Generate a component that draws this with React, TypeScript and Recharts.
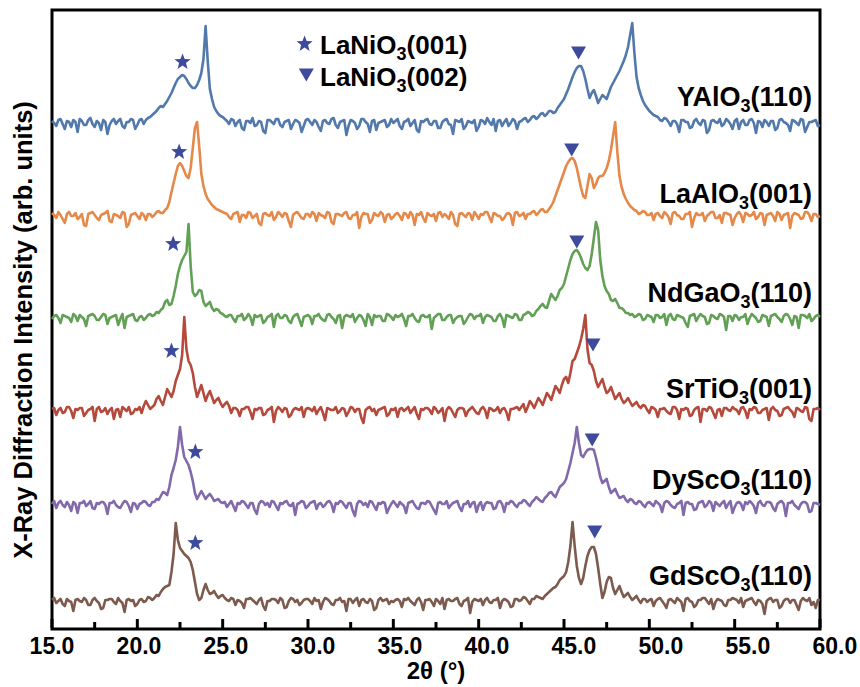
import React from "react";
import { ComposedChart, Line, Scatter, XAxis, YAxis, ReferenceArea } from "recharts";

// 2θ grid (°), 0.125° steps
const TWO_THETA = [
  15, 15.125, 15.25, 15.375, 15.5, 15.625, 15.75, 15.875, 16, 16.125, 16.25, 16.375, 16.5, 16.625, 16.75, 16.875, 17, 17.125, 17.25, 17.375,
  17.5, 17.625, 17.75, 17.875, 18, 18.125, 18.25, 18.375, 18.5, 18.625, 18.75, 18.875, 19, 19.125, 19.25, 19.375, 19.5, 19.625, 19.75, 19.875,
  20, 20.125, 20.25, 20.375, 20.5, 20.625, 20.75, 20.875, 21, 21.125, 21.25, 21.375, 21.5, 21.625, 21.75, 21.875, 22, 22.125, 22.25, 22.375,
  22.5, 22.625, 22.75, 22.875, 23, 23.125, 23.25, 23.375, 23.5, 23.625, 23.75, 23.875, 24, 24.125, 24.25, 24.375, 24.5, 24.625, 24.75, 24.875,
  25, 25.125, 25.25, 25.375, 25.5, 25.625, 25.75, 25.875, 26, 26.125, 26.25, 26.375, 26.5, 26.625, 26.75, 26.875, 27, 27.125, 27.25, 27.375,
  27.5, 27.625, 27.75, 27.875, 28, 28.125, 28.25, 28.375, 28.5, 28.625, 28.75, 28.875, 29, 29.125, 29.25, 29.375, 29.5, 29.625, 29.75, 29.875,
  30, 30.125, 30.25, 30.375, 30.5, 30.625, 30.75, 30.875, 31, 31.125, 31.25, 31.375, 31.5, 31.625, 31.75, 31.875, 32, 32.125, 32.25, 32.375,
  32.5, 32.625, 32.75, 32.875, 33, 33.125, 33.25, 33.375, 33.5, 33.625, 33.75, 33.875, 34, 34.125, 34.25, 34.375, 34.5, 34.625, 34.75, 34.875,
  35, 35.125, 35.25, 35.375, 35.5, 35.625, 35.75, 35.875, 36, 36.125, 36.25, 36.375, 36.5, 36.625, 36.75, 36.875, 37, 37.125, 37.25, 37.375,
  37.5, 37.625, 37.75, 37.875, 38, 38.125, 38.25, 38.375, 38.5, 38.625, 38.75, 38.875, 39, 39.125, 39.25, 39.375, 39.5, 39.625, 39.75, 39.875,
  40, 40.125, 40.25, 40.375, 40.5, 40.625, 40.75, 40.875, 41, 41.125, 41.25, 41.375, 41.5, 41.625, 41.75, 41.875, 42, 42.125, 42.25, 42.375,
  42.5, 42.625, 42.75, 42.875, 43, 43.125, 43.25, 43.375, 43.5, 43.625, 43.75, 43.875, 44, 44.125, 44.25, 44.375, 44.5, 44.625, 44.75, 44.875,
  45, 45.125, 45.25, 45.375, 45.5, 45.625, 45.75, 45.875, 46, 46.125, 46.25, 46.375, 46.5, 46.625, 46.75, 46.875, 47, 47.125, 47.25, 47.375,
  47.5, 47.625, 47.75, 47.875, 48, 48.125, 48.25, 48.375, 48.5, 48.625, 48.75, 48.875, 49, 49.125, 49.25, 49.375, 49.5, 49.625, 49.75, 49.875,
  50, 50.125, 50.25, 50.375, 50.5, 50.625, 50.75, 50.875, 51, 51.125, 51.25, 51.375, 51.5, 51.625, 51.75, 51.875, 52, 52.125, 52.25, 52.375,
  52.5, 52.625, 52.75, 52.875, 53, 53.125, 53.25, 53.375, 53.5, 53.625, 53.75, 53.875, 54, 54.125, 54.25, 54.375, 54.5, 54.625, 54.75, 54.875,
  55, 55.125, 55.25, 55.375, 55.5, 55.625, 55.75, 55.875, 56, 56.125, 56.25, 56.375, 56.5, 56.625, 56.75, 56.875, 57, 57.125, 57.25, 57.375,
  57.5, 57.625, 57.75, 57.875, 58, 58.125, 58.25, 58.375, 58.5, 58.625, 58.75, 58.875, 59, 59.125, 59.25, 59.375, 59.5, 59.625, 59.75, 59.875,
  60,
];

// intensities above each pattern's own baseline (arb. units), one row per 5°
const YALO3 = [
  2, 0, -3, 3, 4, -1, -6, 2, 1, -4, 3, 1, -9, 4, 2, -2, -2, 3, 5, -1, -4, 2, 0, -7, 3, 1, -11, -2, 2, 4, -1, 2, 4, -3, -5, 1, 1, 4, 3, -6,
  -2, 3, 4, -1, 3, 5, 6, 8, 10, 12, 15, 17, 16, 19, 22, 26, 30, 35, 40, 44, 46, 48, 47, 44, 40, 37, 35, 35, 38, 43, 50, 64, 97, 62, 34, 24, 16, 12, 9, 7,
  6, 4, 2, -1, 4, 3, -3, 1, 3, -5, -7, 2, 2, 0, 5, -3, -2, 2, 1, -8, -10, 3, 3, 1, -1, 4, 4, -2, -4, 1, 2, 3, -6, -1, 3, 2, 0, -9, -3, 3,
  4, 1, -2, 3, 1, -4, -8, 2, 3, 0, -1, 4, 5, -2, -5, 1, 2, 3, -12, -3, 3, 2, 0, -6, -3, 4, 4, 1, -1, -9, 2, 3, -7, 0, 1, 2, 3, -4, -2, 4,
  0, 2, 4, -3, -6, 1, 2, 4, -3, 0, 3, -7, -9, 2, 1, 3, 4, -1, -2, 2, 2, -5, -5, 1, 3, 4, -1, -2, -11, 3, 2, 1, 4, -6, -3, 2, 1, 0, 3, -8,
  -4, 3, 2, -1, 5, 1, -2, 4, -8, 2, 3, -3, 1, 4, -3, 0, 4, 2, -6, 1, 2, 4, 5, 1, 3, 6, 7, 4, 6, 9, 10, 7, 9, 12, 12, 10, 11, 15, 18, 21,
  24, 29, 34, 40, 46, 51, 55, 57, 57, 52, 44, 34, 25, 30, 33, 27, 20, 24, 28, 26, 24, 30, 36, 40, 44, 48, 52, 57, 62, 68, 76, 88, 100, 70, 46, 35, 28, 22, 18, 15,
  12, 10, 8, 7, 6, 3, 2, 5, 4, 1, -3, 2, 2, -1, -9, 3, 3, 1, 1, -5, -4, 2, 4, 0, -2, 3, 2, -10, -7, 2, 3, 1, 0, 4, -3, -1, 4, 2, -1, -6,
  2, 4, -6, 1, 3, -2, -2, 3, 4, 0, -10, 2, 1, -4, 3, 1, -3, 2, 2, -7, -5, 3, 4, 1, 0, -2, -8, 3, 2, 0, -2, 4, 3, -9, -4, 1, 1, 2, 3, -3,
  -2,
];
const LAALO3 = [
  3, 1, -2, 4, 1, -3, -7, 2, 4, 0, 0, 3, -3, -1, 2, -9, -10, 2, 3, 4, 1, -2, -4, 1, 2, 3, 5, -5, -6, 2, 1, 0, -2, 4, 3, -11, -8, 1, 2, 3,
  0, -3, 3, 1, -4, 2, 2, -1, 1, 4, 5, 3, 3, 6, 8, 14, 24, 33, 42, 50, 53, 50, 45, 40, 38, 48, 68, 88, 94, 70, 42, 30, 22, 17, 14, 11, 9, 7, 6, 5,
  4, 3, 2, -1, -3, 2, 3, 4, -6, 1, 1, -2, 4, 3, -2, 0, 2, -7, -9, 2, 3, 1, 0, 4, -4, -1, 4, 2, -1, 3, 2, -5, -11, 1, 3, 4, 1, -2, -3, 2,
  2, -1, 4, 2, -5, 3, 1, 0, -2, 4, 3, -6, -8, 2, 2, 1, 0, 3, 4, -2, -3, 1, 1, 4, -12, -1, 3, 2, 2, -7, -4, 3, 1, 0, 4, 2, -6, 1, 2, -3,
  -1, 2, 3, 0, -4, 3, 2, -2, 4, 1, -9, 2, 1, 4, -2, -6, 3, 1, 0, 2, -5, 3, 4, -1, 2, 0, -3, 4, 1, -8, -10, 2, 3, 1, -1, 3, 2, -4, 4, 1,
  -3, 2, 1, 4, 4, -1, -6, 3, 2, 0, 0, -4, -2, 2, 3, 1, -9, 3, 4, 0, 1, 3, -3, 2, 2, 4, 5, 1, 3, 6, 7, 4, 4, 7, 10, 14, 20, 26, 32, 38,
  44, 50, 54, 57, 58, 55, 48, 38, 28, 20, 18, 30, 42, 38, 28, 32, 38, 40, 40, 43, 48, 55, 66, 80, 94, 64, 40, 29, 22, 17, 13, 10, 8, 6, 5, 2, 3, 5, 4, 1,
  1, 3, -4, 2, 3, 0, -2, 4, 2, -1, -8, 3, 4, 1, 0, -3, -3, 2, 2, 4, -11, -2, 3, 1, 1, 3, -5, 0, 2, 4, 4, -2, -2, 1, -7, 3, 3, 2, 1, -9,
  -2, 2, 4, 1, -6, 3, 2, 0, 1, 4, -3, -1, 3, 2, -9, 1, 2, 3, 0, -5, 4, 2, -4, 1, 2, 3, -12, 0, 3, 2, 1, -3, -2, 4, 4, 1, -5, 2, 2, -1,
  0,
];
const NDGAO3 = [
  -1, 2, 3, 0, -5, 3, 2, 1, 0, -4, 4, 2, -3, 3, 1, -1, -8, 2, 3, 4, 2, -2, -2, 1, 4, 3, -6, 0, 1, 2, 3, -7, -1, 4, -10, 1, 2, 3, 4, -2,
  -3, 1, 2, -2, 0, 3, 4, 2, 3, 6, 5, 8, 10, 16, 18, 13, 14, 22, 32, 44, 52, 58, 62, 66, 94, 52, 26, 22, 24, 28, 27, 16, 12, 14, 16, 10, 7, 9, 8, 5,
  4, 2, 1, 3, 3, -1, -4, 2, 2, 4, -2, 0, 4, 1, -7, 3, 1, 2, 3, -5, -3, 1, 2, 4, -9, 2, 4, 0, 0, 3, 2, -3, -5, 1, 3, 4, -2, -8, 1, 2,
  3, 1, -6, 2, 2, 4, 0, -2, -3, 3, 4, 1, -1, -5, 2, 3, -10, 1, 3, 2, 1, 4, -4, 0, 3, 2, -2, -8, 4, 1, -7, 3, 1, 2, 2, -3, -3, 4, 3, 1,
  -2, 3, 1, 2, 4, -1, -8, 2, 2, 4, 0, -3, -4, 2, 3, 1, 1, 3, -11, 0, 2, 4, 4, -2, -2, 1, 3, 3, -5, -1, 1, 2, 2, -6, -3, 1, 4, 3, -1, 2,
  2, 4, -5, 1, 3, 2, 1, -3, -3, 2, 4, 0, -9, 3, 2, 1, 0, 4, 3, -2, -2, 3, 4, 6, 5, 2, 3, 7, 9, 12, 14, 11, 10, 17, 24, 21, 18, 22, 28, 30,
  34, 42, 50, 58, 64, 67, 68, 65, 60, 54, 50, 48, 52, 64, 80, 96, 88, 58, 42, 32, 27, 24, 18, 17, 19, 15, 10, 10, 8, 5, 5, 3, 4, 1, 2, 4, 3, -2, -1, 3,
  2, 1, -4, 3, 3, 0, 1, 4, -7, 2, 4, -1, -2, 3, 2, 1, 0, -5, -9, 2, 3, 4, -3, 1, 4, 2, 1, -6, -5, 3, 2, 0, -1, 4, 3, 1, -12, 2, 2, -3,
  3, 2, -2, 1, 1, 4, -6, 0, 4, 2, 0, -4, -3, 3, 2, 1, -8, 2, 3, 4, 1, -1, -4, 2, 4, 3, -1, -7, 2, 1, -10, 3, 3, 2, 0, 4, -3, -1, 2, 3,
  1,
];
const SRTIO3 = [
  2, 3, -4, 1, 3, -2, -1, 4, 4, 0, -7, 2, 1, 3, 3, -5, -2, 1, 2, 4, -10, 2, 4, -1, 0, 3, -3, 1, 3, -8, 1, 2, -6, 4, 2, 0, 4, -3, -2, 2,
  1, 4, -2, 5, 10, 6, 2, 4, 6, 12, 15, 10, 6, 14, 22, 18, 14, 20, 30, 36, 42, 56, 94, 62, 50, 46, 38, 24, 14, 20, 26, 18, 10, 16, 20, 14, 8, 11, 13, 8,
  4, 7, 9, 5, -2, 3, 3, 1, -5, 2, 2, 4, 4, -1, -8, 2, 1, 3, 3, -4, -3, 1, 2, 4, -11, 0, 4, 2, -1, 3, 2, -6, -4, 1, 3, 2, 1, 4, -6, 2,
  3, 2, 0, 4, -3, 1, 4, -2, -9, 3, 2, 1, 1, 4, -2, 0, 3, 2, -5, -1, 4, 3, -1, 2, 2, -7, -12, 1, 3, 4, 0, 2, -4, 1, 2, 3, 4, -5, -3, 2,
  1, 3, -6, 2, 3, 0, 2, 4, -2, 1, 4, -3, -8, 2, 1, 3, 3, 1, -3, 4, 2, -2, 0, 3, -10, 1, 4, 2, -2, -6, 1, 3, 3, 2, -5, 0, 2, 4, 1, -2,
  -3, 2, 4, 1, -7, 3, 2, 0, 1, 4, -2, 2, 3, -1, -9, 2, 2, 3, 4, 1, 4, 7, -1, 4, 10, 7, 3, 8, 13, 10, 6, 12, 18, 15, 11, 18, 25, 22, 18, 26,
  32, 34, 28, 38, 50, 52, 58, 64, 72, 82, 96, 62, 48, 46, 40, 30, 24, 28, 32, 24, 18, 20, 24, 18, 12, 15, 18, 12, 8, 10, 13, 9, 5, 7, 9, 5, 3, 6, 5, 1,
  -2, 4, 3, 1, -6, 2, 2, 3, 0, -2, -3, 4, 4, 1, -8, 2, 1, 3, 2, -5, -4, 1, 3, 4, -11, 2, 2, 0, 4, 3, -2, -7, 1, 2, -5, 3, 3, 1, 0, 4,
  2, 1, -3, 3, 4, 0, -7, 2, 1, 4, 3, -2, -2, 1, 2, 3, -9, 2, 4, 1, 0, -5, -4, 2, 3, 4, 1, -1, -6, 3, 2, 0, -1, 4, 3, -8, -10, 2, 2, 3,
  1,
];
const DYSCO3 = [
  1, 4, -3, 2, 4, 0, -2, 3, 0, -6, 3, 1, -8, 2, 2, 4, -1, 1, 4, -3, -4, 2, 1, 3, 3, 0, -9, 2, 2, 4, 0, -2, -3, 1, 4, 3, -1, -7, 2, 1,
  -4, 1, 2, 4, 3, 0, -1, 3, 3, 6, 5, 9, 13, 12, 10, 18, 30, 37, 45, 58, 78, 60, 48, 44, 40, 33, 24, 12, 6, 10, 14, 10, 6, 9, 11, 8, 4, 5, 6, 3,
  2, 3, -2, 1, 4, -1, -6, 2, 1, 4, 3, 0, -3, 2, 2, -5, -9, 1, 4, 3, 0, 2, -2, 4, 3, -1, -5, 2, 1, 3, 4, 0, -1, 2, -10, 1, 2, 4, 3, -3,
  -1, 2, 3, 4, -4, 1, 2, -2, 0, 3, 4, 1, -7, 2, 1, 4, 3, 0, -3, 2, 2, -6, -11, 1, 4, 3, 0, 2, -2, 4, 3, -1, -5, 2, 1, 3, 2, -8, -3, 1,
  4, 1, -2, 3, 1, -1, -8, 2, 3, 4, 0, -3, -4, 2, 2, 1, 4, 3, -1, -5, -9, 2, 3, 1, 1, 4, -3, 0, 2, 3, 4, -2, -6, 1, 1, 4, -2, 2, 3, -7,
  0, 3, -5, 1, 3, 2, 2, -4, -3, 3, 4, 1, -7, 2, 1, 4, 3, 0, -2, 2, 2, 5, 4, 1, -1, 3, 5, 8, 6, 4, 3, 7, 9, 12, 13, 10, 8, 13, 18, 20,
  22, 26, 34, 42, 52, 62, 78, 62, 50, 48, 52, 55, 56, 56, 55, 47, 38, 28, 22, 24, 26, 18, 12, 14, 16, 11, 7, 8, 9, 5, 3, 6, 5, 2, 1, 4, 3, 0, -2, 2,
  3, 1, -1, 4, 2, 0, -7, 2, 4, 3, 0, -2, -3, 1, 2, 4, -10, 2, 3, 1, 1, -5, -4, 2, 3, 4, -2, 0, 4, 2, -6, 3, 1, -1, 2, 4, -3, 1, 4, -8,
  -2, 2, 3, 1, -5, 3, 1, 4, 2, -1, -8, 2, 4, 0, -1, 3, 3, 2, -3, -6, 1, 3, 4, 1, -11, 2, 2, 4, 0, -2, -4, 1, 3, 3, 1, -7, -6, 2, 2, 1,
  0,
];
const GDSCO3 = [
  2, 4, -1, 1, 3, -2, -4, 3, 1, 0, -9, 2, 3, 1, 0, 4, 2, -3, -3, 2, 4, 1, -1, -7, -6, 2, 2, 3, 3, 0, -2, 4, 1, -1, -10, 2, 3, 1, 2, -4,
  -2, 2, 3, 0, 1, 5, 4, 2, 4, 7, 6, 10, 13, 15, 16, 17, 30, 48, 79, 62, 54, 51, 48, 46, 44, 40, 32, 20, 8, 2, 4, 12, 18, 12, 8, 9, 11, 7, 4, 6,
  7, 4, 2, 1, 4, 3, -3, 2, 1, -1, -6, 3, 3, 4, 2, 0, -2, 2, 4, -4, -8, 1, 1, 3, 3, 2, -1, 4, 2, -6, -5, 1, 4, 3, 0, 2, -3, -1, 2, 3,
  3, 1, -2, 4, 1, 2, -7, 0, 4, 3, 1, -2, -3, 2, 2, 4, 0, 1, -9, 3, 3, -1, 2, 4, -4, 2, 3, 0, -1, 3, 1, -8, -6, 2, 4, 1, 2, 3, -2, 1,
  0, 2, 3, 1, -5, 3, 2, 4, 1, -1, -3, 2, 4, 0, -8, 2, 2, 3, 0, -4, 3, 1, -2, 4, -7, 2, 3, 1, 1, 3, 4, -2, -4, 1, 2, 4, -11, 0, 3, 2,
  1, 3, -3, 2, 4, 0, -1, 2, 2, 4, -6, 1, 3, 2, 0, -5, -4, 3, 3, 1, 2, 5, 4, 1, -2, 3, 3, 6, 5, 4, 3, 6, 8, 10, 12, 14, 15, 18, 22, 24,
  26, 30, 40, 56, 80, 56, 36, 24, 18, 24, 36, 46, 52, 55, 55, 48, 34, 18, 4, 10, 20, 25, 24, 14, 8, 12, 16, 10, 5, 7, 9, 5, 2, 4, 6, 2, -1, 3, 3, 0,
  2, 3, -4, 1, 3, 4, 1, -2, -6, 2, 3, 1, -1, 4, 2, 0, -9, 3, 4, 1, 0, -5, -3, 2, 2, 4, 4, 1, -2, 3, -7, 0, 3, 2, 1, -3, -4, 2, 2, 4,
  3, 2, -1, 4, -5, 1, 2, 3, 4, 0, -3, 2, 1, -2, -12, 1, 3, 4, 0, 2, 2, -6, -4, 1, 3, 3, -1, 2, 2, -3, -8, 1, 4, 2, 1, 4, -3, 0, -6, 2,
  2,
];

const SERIES = [YALO3, LAALO3, NDGAO3, SRTIO3, DYSCO3, GDSCO3];
const SUBSTRATES = ["YAlO", "LaAlO", "NdGaO", "SrTiO", "DyScO", "GdScO"];
const SUBSTRATE_PLANES = ["(110)", "(001)", "(110)", "(001)", "(110)", "(110)"];
const OFFSETS = [506, 413, 311, 218, 124, 27];
const COLORS = ["#5279ab", "#e5894a", "#62a055", "#b54a3c", "#8269aa", "#7c5a4d"];

// LaNiO3 peak markers
const STAR_X = [22.65, 22.45, 22.1, 22.0, 23.4, 23.4];
const STAR_Y = [567, 477, 385, 278, 177, 86];
const TRI_X = [45.85, 45.45, 45.75, 46.7, 46.65, 46.8];
const TRI_Y = [576, 479, 387, 284, 189, 97];
const LEGEND_STAR = { x: 29.8, y: 585 };
const LEGEND_TRI = { x: 29.9, y: 554 };

const TICKS = [15, 17.5, 20, 22.5, 25, 27.5, 30, 32.5, 35, 37.5, 40, 42.5, 45, 47.5, 50, 52.5, 55, 57.5, 60];

const FONT = "'Liberation Sans', Arial, Helvetica, sans-serif";
const MARK = "#3e4b9c";

const rows = TWO_THETA.map((x, i) => {
  const row: Record<string, number> = { x };
  SERIES.forEach((s, k) => {
    row[`s${k}`] = OFFSETS[k] + (s[i] ?? 0);
  });
  return row;
});

const stars = STAR_X.map((x, i) => ({ x, y: STAR_Y[i] })).concat([LEGEND_STAR]);
const tris = TRI_X.map((x, i) => ({ x, y: TRI_Y[i] })).concat([LEGEND_TRI]);

function Star(props: any) {
  const { cx, cy } = props;
  const pts: string[] = [];
  for (let i = 0; i < 10; i++) {
    const r = i % 2 === 0 ? 8.5 : 3.6;
    const a = -Math.PI / 2 + (i * Math.PI) / 5;
    pts.push(`${cx + r * Math.cos(a)},${cy + r * Math.sin(a)}`);
  }
  return <polygon points={pts.join(" ")} fill={MARK} />;
}

function Tri(props: any) {
  const { cx, cy } = props;
  return <polygon points={`${cx - 7.5},${cy - 6.5} ${cx + 7.5},${cy - 6.5} ${cx},${cy + 6.5}`} fill={MARK} />;
}

function XTick(props: any) {
  const { x, y, payload } = props;
  const v = payload.value as number;
  const major = v % 5 === 0;
  return (
    <g>
      <line x1={x} x2={x} y1={y - 1} y2={y - (major ? 10 : 7)} stroke="#000" strokeWidth={3} />
      {major && (
        <text x={x + (v - 15) * 0.33} y={y + 25} textAnchor="middle" fontSize={23} fontWeight="bold" fontFamily={FONT} fill="#000">
          {v.toFixed(1)}
        </text>
      )}
    </g>
  );
}

const LABEL_Y = [106, 203, 302, 398, 489, 585];

export default function App() {
  return (
    <div style={{ position: "absolute", left: 0, top: 0, width: 860, height: 687, background: "#fff" }}>
      <ComposedChart width={860} height={687} data={rows} margin={{ top: 10, right: 40, bottom: 8, left: 52 }}>
        <XAxis
          dataKey="x"
          type="number"
          domain={[15, 60]}
          ticks={TICKS}
          interval={0}
          height={50}
          tickSize={0}
          tickMargin={0}
          tickLine={false}
          axisLine={false}
          tick={<XTick />}
        />
        <YAxis type="number" domain={[0, 619]} hide />
        {SERIES.map((_, k) => (
          <Line
            key={k}
            dataKey={`s${k}`}
            type="linear"
            stroke={COLORS[k]}
            strokeWidth={2.6}
            strokeLinejoin="round"
            dot={false}
            isAnimationActive={false}
          />
        ))}
        <Scatter data={stars} dataKey="y" shape={<Star />} isAnimationActive={false} />
        <Scatter data={tris} dataKey="y" shape={<Tri />} isAnimationActive={false} />
        <ReferenceArea x1={15} x2={60} y1={0} y2={619} fill="none" stroke="#000" strokeWidth={3} ifOverflow="visible" />
      </ComposedChart>
      <svg width={860} height={687} style={{ position: "absolute", left: 0, top: 0, pointerEvents: "none" }}>
        <g fontFamily={FONT} fontWeight="bold" fill="#000">
          <text x={320} y={54} fontSize={26}>
            LaNiO<tspan fontSize={18} dy={6}>3</tspan>
            <tspan dy={-6}>(001)</tspan>
          </text>
          <text x={320} y={86} fontSize={26}>
            LaNiO<tspan fontSize={18} dy={6}>3</tspan>
            <tspan dy={-6}>(002)</tspan>
          </text>
          {SUBSTRATES.map((name, k) => (
            <text key={name} x={812} y={LABEL_Y[k]} fontSize={27} textAnchor="end">
              {name}
              <tspan fontSize={18} dy={6}>3</tspan>
              <tspan dy={-6}>{SUBSTRATE_PLANES[k]}</tspan>
            </text>
          ))}
          <text x={32} y={330} fontSize={25.5} textAnchor="middle" transform="rotate(-90 32 330)">
            X-Ray Diffraction Intensity (arb. units)
          </text>
          <text x={436} y={679} fontSize={24} textAnchor="middle">
            2θ (°)
          </text>
        </g>
      </svg>
    </div>
  );
}
